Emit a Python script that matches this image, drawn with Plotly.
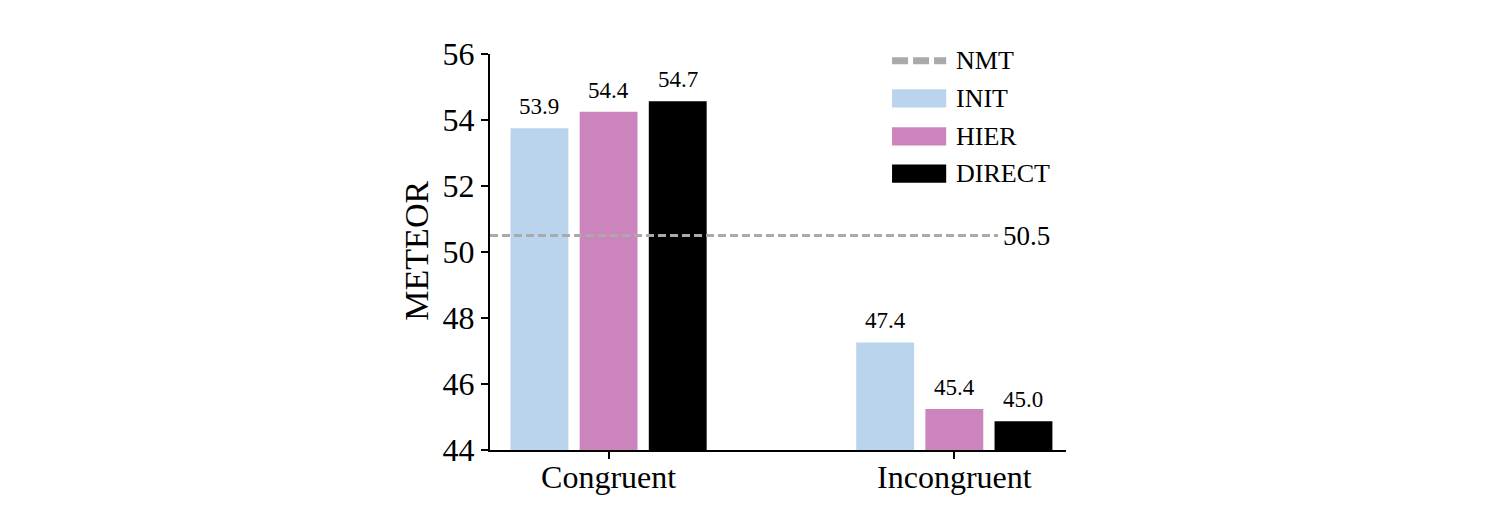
import plotly.graph_objects as go

categories = ["Congruent", "Incongruent"]
series_names = ["INIT", "HIER", "DIRECT"]
init_vals = [53.75, 47.26]
hier_vals = [54.25, 45.24]
direct_vals = [54.57, 44.87]
init_labels = ["53.9", "47.4"]
hier_labels = ["54.4", "45.4"]
direct_labels = ["54.7", "45.0"]
nmt_value = 50.5
nmt_label = "50.5"
y_ticks = [44, 46, 48, 50, 52, 54, 56]

colors = {"INIT": "#bad4ee", "HIER": "#cc84bc", "DIRECT": "#000000"}
FONT = "Liberation Serif, Times New Roman, serif"

# layout geometry (page body adds an 8px offset)
W, H = 1512, 513
ML, MT = 482, 46
PLOT_W, PLOT_H = 576, 396
MR = W - ML - PLOT_W
MB = H - MT - PLOT_H
X_RANGE = [-0.343, 1.323]
BARGAP = 0.4
px_per_unit = PLOT_W / (X_RANGE[1] - X_RANGE[0])
bar_pitch_px = (1 - BARGAP) / len(series_names) * px_per_unit

fig = go.Figure()
for k, (name, vals, labels) in enumerate(zip(series_names,
                                             [init_vals, hier_vals, direct_vals],
                                             [init_labels, hier_labels, direct_labels])):
    fig.add_trace(go.Bar(
        x=categories, y=vals, name=name,
        marker=dict(color=colors[name], line=dict(width=0)),
        showlegend=False,
    ))
    for cat, v, lab in zip(categories, vals, labels):
        fig.add_annotation(
            x=cat, y=v, xref="x", yref="y", text=lab, showarrow=False,
            xanchor="center", yanchor="bottom",
            xshift=(k - 1) * bar_pitch_px, yshift=7,
            font=dict(family=FONT, size=23, color="black"),
        )

# NMT reference line
fig.add_shape(type="line", xref="paper", yref="y", x0=0, x1=0.882,
              y0=nmt_value, y1=nmt_value,
              line=dict(color="#aaaaaa", width=3, dash="8px,4px"))
fig.add_annotation(xref="paper", yref="y", x=0.888, y=nmt_value,
                   text=nmt_label, showarrow=False, xanchor="left",
                   font=dict(family=FONT, size=27, color="black"))

# Custom legend
legend_rows = [("NMT", "line", "#aaaaaa"),
               ("INIT", "patch", colors["INIT"]),
               ("HIER", "patch", colors["HIER"]),
               ("DIRECT", "patch", colors["DIRECT"])]
row_y = [0.983, 0.888, 0.792, 0.698]
for (label, kind, col), yy in zip(legend_rows, row_y):
    if kind == "line":
        fig.add_shape(type="line", xref="paper", yref="paper",
                      x0=0.698, x1=0.792, y0=yy, y1=yy,
                      line=dict(color=col, width=7, dash="16px,5px"))
    else:
        fig.add_shape(type="rect", xref="paper", yref="paper",
                      x0=0.698, x1=0.792, y0=yy - 0.023, y1=yy + 0.023,
                      fillcolor=col, line=dict(width=0))
    fig.add_annotation(xref="paper", yref="paper", x=0.806, y=yy,
                       text=label, showarrow=False, xanchor="left",
                       yanchor="middle",
                       font=dict(family=FONT, size=26, color="black"))

# Y-axis title
fig.add_annotation(xref="paper", yref="paper", x=-0.127, y=0.503,
                   text="METEOR", showarrow=False, textangle=-90,
                   xanchor="center", yanchor="middle",
                   font=dict(family=FONT, size=34, color="black"))

fig.update_layout(
    width=W, height=H,
    margin=dict(l=ML, r=MR, t=MT, b=MB, autoexpand=False),
    paper_bgcolor="white", plot_bgcolor="white",
    barmode="group", bargap=BARGAP, bargroupgap=0.163,
    font=dict(family=FONT, color="black"),
    showlegend=False,
)
fig.update_xaxes(
    type="category", range=X_RANGE, automargin=False,
    showline=True, linecolor="black", linewidth=2,
    ticks="outside", ticklen=7, tickwidth=2, tickcolor="black",
    ticklabelstandoff=-9,
    tickfont=dict(family=FONT, size=32, color="black"),
    showgrid=False, zeroline=False,
)
fig.update_yaxes(
    range=[44, 56], tickvals=y_ticks, automargin=False,
    showline=True, linecolor="black", linewidth=2,
    ticks="outside", ticklen=7, tickwidth=2, tickcolor="black",
    tickfont=dict(family=FONT, size=32, color="black"),
    showgrid=False, zeroline=False,
)

fig.write_html("out.html")
